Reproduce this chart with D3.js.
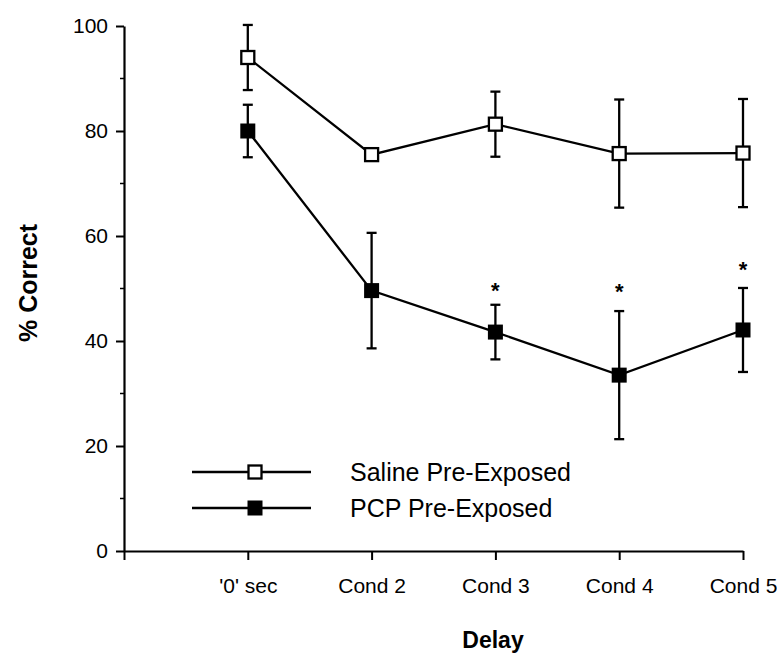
<!DOCTYPE html>
<html>
<head>
<meta charset="utf-8">
<script src="https://cdn.jsdelivr.net/npm/d3@7"></script>
<style>
  body { margin: 0; background: #fff; }
  svg { display: block; font-family: "Liberation Sans", Arial, Helvetica, sans-serif; }
</style>
</head>
<body>
<svg id="chart" width="777" height="658"></svg>
<script>
// values
const categories = ["'0' sec", "Cond 2", "Cond 3", "Cond 4", "Cond 5"];
const saline = [94, 75.5, 81.3, 75.7, 75.8];
const salineErr = [6.2, 1, 6.2, 10.3, 10.3];
const pcp = [80, 49.6, 41.7, 33.5, 42.1];
const pcpErr = [5, 11, 5.2, 12.2, 8];
// asterisk heights (in % correct units), null where there is none
const stars = [null, null, 50.5, 50.2, 54.5];
const yTicks = [0, 20, 40, 60, 80, 100];
const yMinor = [10, 30, 50, 70, 90];
const seriesNames = ['Saline Pre-Exposed', 'PCP Pre-Exposed'];

const svg = d3.select('#chart');
const x = d3.scaleLinear().domain([0, categories.length]).range([124, 743]);
const y = d3.scaleLinear().domain([0, 100]).range([551, 26]);

// y axis
let yAxis = svg.append('g')
    .attr('transform', 'translate(' + x(0) + ',0)')
    .call(d3.axisLeft(y).tickValues(yTicks).tickSize(8).tickPadding(8).tickSizeOuter(0));
yAxis.select('.domain').attr('stroke-width', 2.2);
yAxis.selectAll('.tick line').attr('stroke-width', 2);
yAxis.selectAll('.tick text').attr('font-size', 21).attr('font-family', null).attr('fill', '#000');
yAxis.selectAll('.minor').data(yMinor).enter().append('line')
    .attr('x1', -4).attr('x2', 0)
    .attr('y1', d => y(d)).attr('y2', d => y(d))
    .attr('stroke', '#000').attr('stroke-width', 1.5);

// x axis
let xAxis = svg.append('g')
    .attr('transform', 'translate(0,' + y(0) + ')')
    .call(d3.axisBottom(x).ticks(categories.length).tickSize(9).tickSizeOuter(0)
        .tickFormat(d => d == 0 ? '' : categories[d - 1]));
xAxis.select('.domain').attr('stroke-width', 2.2);
xAxis.selectAll('.tick line').attr('stroke-width', 2);
xAxis.selectAll('.tick text').attr('font-size', 21).attr('font-family', null)
    .attr('fill', '#000').attr('y', 42).attr('dy', 0);

// axis titles
svg.append('text')
    .attr('x', 493).attr('y', 648)
    .attr('text-anchor', 'middle')
    .attr('font-size', 23).attr('font-weight', 'bold')
    .text('Delay');
svg.append('text')
    .attr('transform', 'translate(37,283) rotate(-90)')
    .attr('text-anchor', 'middle')
    .attr('font-size', 25).attr('font-weight', 'bold')
    .text('% Correct');

const idx = d3.range(categories.length);
const line = d3.line().x(i => x(i + 1));

function drawSeries(vals, errs, filled) {
    let g = svg.append('g');
    g.append('path')
        .attr('d', line.y(i => y(vals[i]))(idx))
        .attr('fill', 'none').attr('stroke', '#000').attr('stroke-width', 2.3);
    idx.forEach(function(i) {
        let cx = x(i + 1);
        let hi = y(vals[i] + errs[i]), lo = y(vals[i] - errs[i]);
        g.append('line').attr('x1', cx).attr('x2', cx).attr('y1', hi).attr('y2', lo)
            .attr('stroke', '#000').attr('stroke-width', 2.3);
        [hi, lo].forEach(function(yy) {
            g.append('line').attr('x1', cx - 5).attr('x2', cx + 5).attr('y1', yy).attr('y2', yy)
                .attr('stroke', '#000').attr('stroke-width', 2.3);
        });
    });
    g.selectAll('rect').data(idx).enter().append('rect')
        .attr('x', i => x(i + 1) - (filled ? 7.5 : 6.5))
        .attr('y', i => y(vals[i]) - (filled ? 7.5 : 6.5))
        .attr('width', filled ? 15 : 13).attr('height', filled ? 15 : 13)
        .attr('fill', filled ? '#000' : '#fff')
        .attr('stroke', filled ? 'none' : '#000').attr('stroke-width', 2.3);
}
drawSeries(saline, salineErr, false);
drawSeries(pcp, pcpErr, true);

// significance marks
svg.selectAll('.star').data(idx.filter(i => stars[i] != null)).enter().append('text')
    .attr('x', i => x(i + 1))
    .attr('y', i => y(stars[i]) + 12)
    .attr('text-anchor', 'middle')
    .attr('font-size', 22).attr('font-weight', 'bold')
    .text('*');

// legend
let legend = svg.append('g');
seriesNames.forEach(function(name, k) {
    let ly = 472 + k * 36;
    legend.append('line').attr('x1', 192).attr('x2', 311).attr('y1', ly).attr('y2', ly)
        .attr('stroke', '#000').attr('stroke-width', 2.3);
    if (k == 0) {
        legend.append('rect').attr('x', 248.5).attr('y', ly - 6.5).attr('width', 13).attr('height', 13)
            .attr('fill', '#fff').attr('stroke', '#000').attr('stroke-width', 2.3);
    } else {
        legend.append('rect').attr('x', 247.5).attr('y', ly - 7.5).attr('width', 15).attr('height', 15)
            .attr('fill', '#000');
    }
    legend.append('text').attr('x', 350).attr('y', ly).attr('dy', '0.35em')
        .attr('font-size', 25).text(name);
});
</script>
</body>
</html>
